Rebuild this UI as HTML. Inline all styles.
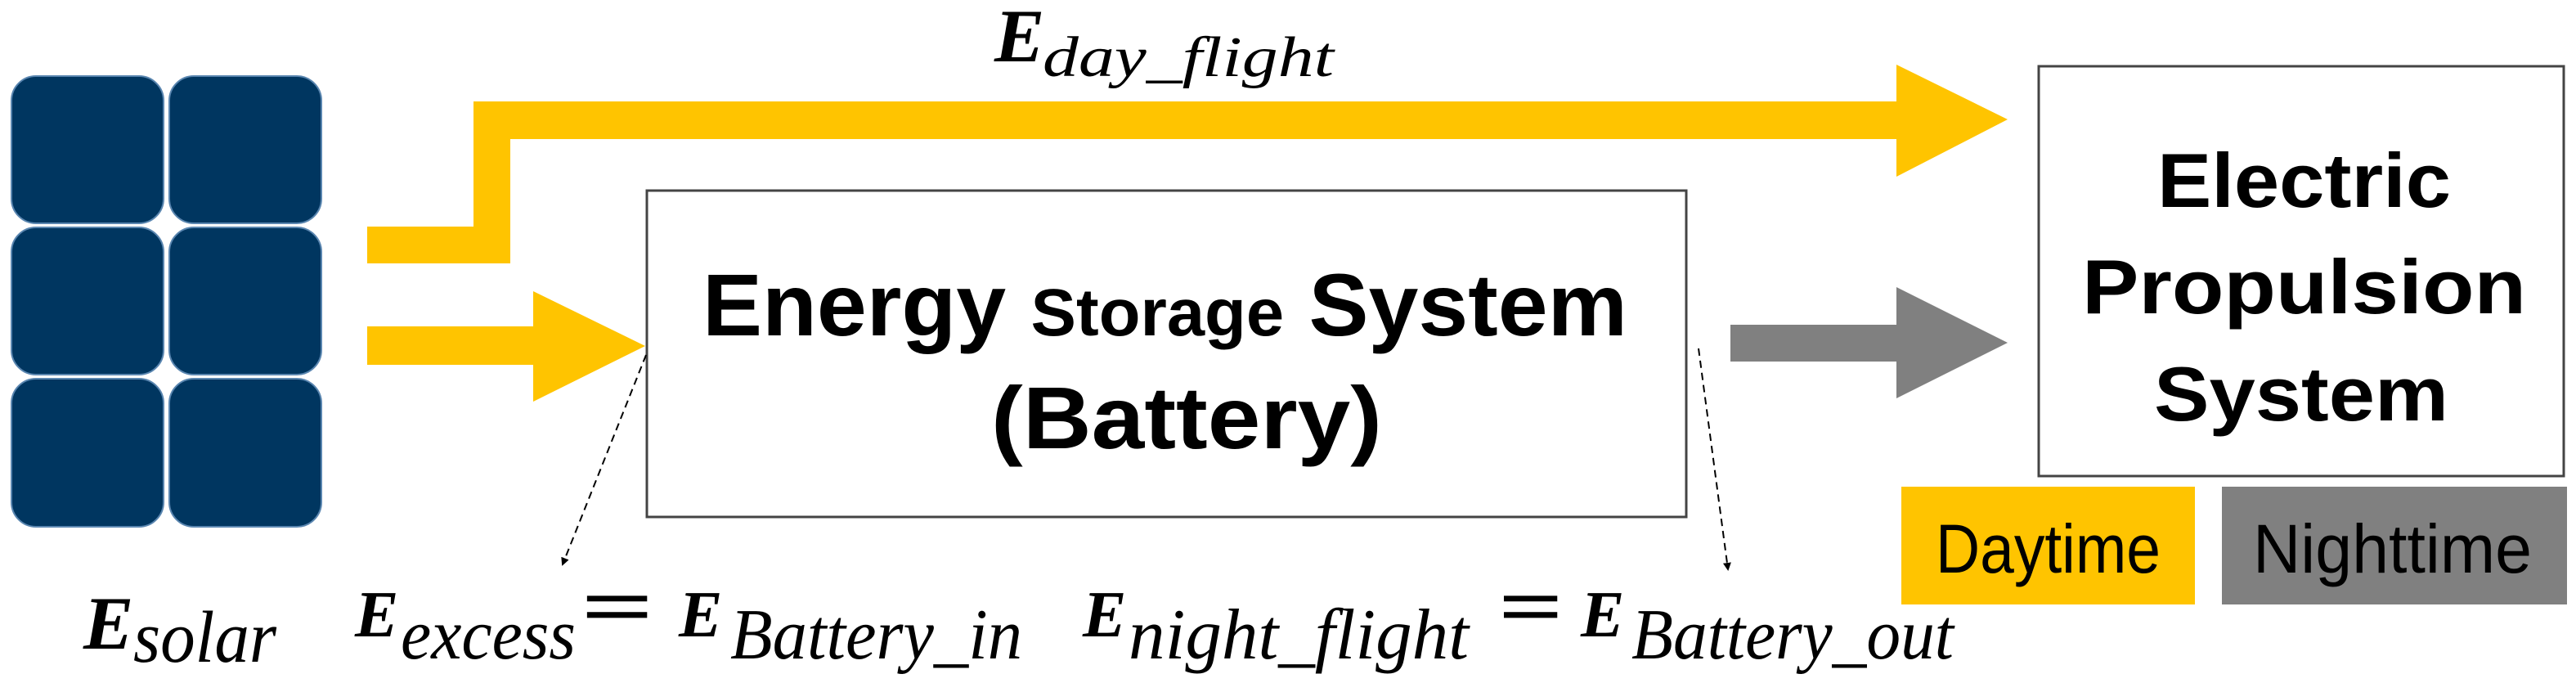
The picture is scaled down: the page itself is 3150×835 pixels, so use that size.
<!DOCTYPE html>
<html><head><meta charset="utf-8"><style>html,body{margin:0;padding:0;background:#fff}svg{display:block}</style></head>
<body>
<svg width="3150" height="835" viewBox="0 0 3150 835" xmlns="http://www.w3.org/2000/svg">
<defs>
<marker id="ah" markerWidth="10" markerHeight="10" refX="8" refY="5" orient="auto" markerUnits="userSpaceOnUse" viewBox="0 0 10 10"><path d="M0,0 L10,5 L0,10 z" fill="#000"/></marker>
</defs>
<g fill="#003660" stroke="#5a86b0" stroke-width="2">
<rect x="14" y="93" width="186" height="180" rx="30"/>
<rect x="207" y="93" width="186" height="180" rx="30"/>
<rect x="14" y="278" width="186" height="180" rx="30"/>
<rect x="207" y="278" width="186" height="180" rx="30"/>
<rect x="14" y="463" width="186" height="181" rx="30"/>
<rect x="207" y="463" width="186" height="181" rx="30"/>
</g>
<path d="M449,277 H579 V124 H2319 V79 L2455,146 L2319,216 V170 H624 V322 H449 Z" fill="#ffc400"/>
<path d="M449,399 H652 V356 L789,423 L652,491 V446 H449 Z" fill="#ffc400"/>
<path d="M2116,397 H2319 V351 L2455,419 L2319,487 V442 H2116 Z" fill="#808080"/>
<rect x="791" y="233" width="1271" height="399" fill="#fff" stroke="#444" stroke-width="3"/>
<rect x="2493" y="81" width="642" height="501" fill="#fff" stroke="#444" stroke-width="3"/>
<line x1="790" y1="434" x2="688" y2="690" stroke="#000" stroke-width="2" stroke-dasharray="9,6" marker-end="url(#ah)"/>
<line x1="2077" y1="426" x2="2113" y2="696" stroke="#000" stroke-width="2" stroke-dasharray="9,6" marker-end="url(#ah)"/>
<rect x="2325" y="595" width="359" height="144" fill="#ffc400"/>
<rect x="2717" y="595" width="422" height="144" fill="#808080"/>
<g font-family="'Liberation Sans', sans-serif" font-weight="bold" fill="#000">
<text x="859" y="410" font-size="108" textLength="1131" lengthAdjust="spacingAndGlyphs">Energy <tspan font-size="82">Storage</tspan> System</text>
<text x="1212" y="548" font-size="108" textLength="478" lengthAdjust="spacingAndGlyphs">(Battery)</text>
<text x="2638" y="253" font-size="94" textLength="359" lengthAdjust="spacingAndGlyphs">Electric</text>
<text x="2546" y="383" font-size="94" textLength="543" lengthAdjust="spacingAndGlyphs">Propulsion</text>
<text x="2634" y="514" font-size="94" textLength="360" lengthAdjust="spacingAndGlyphs">System</text>
</g>
<g font-family="'Liberation Sans', sans-serif" fill="#000">
<text x="2367" y="700" font-size="84" textLength="275" lengthAdjust="spacingAndGlyphs">Daytime</text>
<text x="2755" y="700" font-size="84" textLength="341" lengthAdjust="spacingAndGlyphs">Nighttime</text>
</g>
<g font-family="'Liberation Serif', serif" font-style="italic" fill="#000">
<text x="1216" y="75" font-size="92" font-weight="bold">E</text>
<text x="1275" y="93" font-size="70" textLength="356" lengthAdjust="spacingAndGlyphs">day_flight</text>
<text x="102" y="793" font-size="92" font-weight="bold">E</text>
<text x="163" y="809" font-size="90" textLength="175" lengthAdjust="spacingAndGlyphs">solar</text>
<text x="434" y="778" font-size="80" font-weight="bold">E</text>
<text x="490" y="805" font-size="88" textLength="214" lengthAdjust="spacingAndGlyphs">excess</text>
<text x="710" y="775" font-size="100" font-style="normal" font-weight="bold" textLength="90" lengthAdjust="spacingAndGlyphs">=</text>
<text x="830" y="778" font-size="80" font-weight="bold">E</text>
<text x="893" y="805" font-size="88" textLength="357" lengthAdjust="spacingAndGlyphs">Battery_in</text>
<text x="1324" y="778" font-size="80" font-weight="bold">E</text>
<text x="1380" y="805" font-size="88" textLength="416" lengthAdjust="spacingAndGlyphs">night_flight</text>
<text x="1832" y="775" font-size="100" font-style="normal" font-weight="bold" textLength="80" lengthAdjust="spacingAndGlyphs">=</text>
<text x="1933" y="778" font-size="80" font-weight="bold">E</text>
<text x="1995" y="805" font-size="88" textLength="394" lengthAdjust="spacingAndGlyphs">Battery_out</text>
</g>
</svg>
</body></html>
